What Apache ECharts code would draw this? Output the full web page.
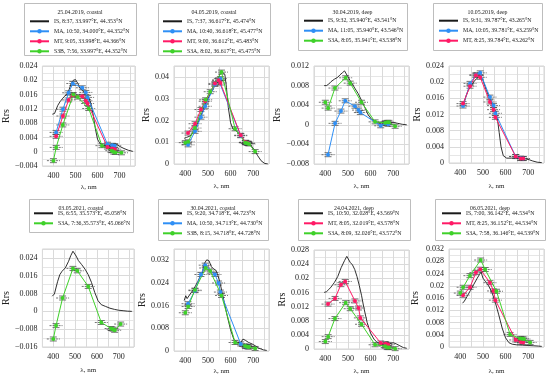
<!DOCTYPE html>
<html><head><meta charset="utf-8">
<script src="https://cdn.jsdelivr.net/npm/echarts@6/dist/echarts.min.js"></script>
<style>html,body{margin:0;padding:0;background:#fff}#c{width:550px;height:379px}</style>
</head><body><div id="c"></div>
<script>
// ---------- DATA ----------
const S3_BANDS = [400, 412.5, 442.5, 490, 510, 560, 620, 665, 673.75, 681.25, 708.75];
const MODIS_BANDS = [412, 443, 469, 488, 531, 547, 555, 645, 667, 678];
const TITLES = ["25.04.2019, coastal", "04.05.2019, coastal", "30.04.2019, deep", "10.05.2019, deep",
                "03.05.2021, coastal", "30.04.2021, coastal", "24.04.2021, deep", "06.05.2021, deep"];
const X_TICKS = [400, 500, 600, 700];

// in situ (IS) spectra: [wavelength nm, Rrs]
const IS_1 = [[395,0.0105],[405,0.0107],[412,0.0118],[420,0.013],[430,0.014],[440,0.0148],[450,0.0155],[460,0.016],[470,0.0172],[480,0.019],[490,0.02],[500,0.0202],[510,0.0192],[520,0.0178],[530,0.0172],[545,0.0163],[560,0.0152],[570,0.0135],[580,0.0105],[590,0.0065],[600,0.0035],[610,0.0024],[625,0.0018],[640,0.0016],[660,0.0019],[680,0.0022],[690,0.002],[700,0.0015],[720,0.0009],[740,0.0004],[760,0.0001]];
const IS_2 = [[395,0.0118],[405,0.0122],[420,0.0128],[430,0.0138],[440,0.0155],[450,0.0178],[460,0.02],[470,0.0225],[480,0.025],[490,0.0278],[500,0.03],[510,0.0322],[520,0.0338],[530,0.036],[540,0.038],[550,0.0405],[560,0.0428],[568,0.0432],[575,0.041],[582,0.035],[590,0.026],[600,0.019],[610,0.0162],[625,0.0152],[640,0.0138],[655,0.0115],[670,0.0098],[690,0.0085],[705,0.0065],[720,0.0038],[735,0.0015],[750,0.0003],[765,0]];
const IS_3 = [[395,0.008],[405,0.008],[415,0.0083],[425,0.0088],[440,0.0093],[455,0.0097],[465,0.0102],[475,0.0106],[485,0.011],[492,0.0107],[500,0.0098],[510,0.009],[520,0.0083],[530,0.0075],[545,0.0064],[560,0.005],[575,0.0035],[590,0.002],[605,0.0011],[620,0.0006],[640,0.0005],[660,0.0006],[680,0.0006],[700,0.0005],[720,0.0003],[740,0.0001],[760,0]];
const IS_4 = [[415,0.0145],[425,0.0165],[435,0.018],[450,0.0193],[465,0.0205],[480,0.0212],[490,0.021],[500,0.0205],[515,0.018],[530,0.016],[545,0.0143],[558,0.0125],[565,0.0105],[572,0.0075],[580,0.004],[590,0.0018],[605,0.0012],[625,0.0012],[645,0.0013],[670,0.0011],[690,0.001],[705,0.0008],[720,0.0005],[740,0.0002],[760,0.0001]];
const IS_5 = [[395,0.0068],[400,0.0065],[405,0.0078],[412,0.0105],[420,0.0135],[430,0.0165],[440,0.018],[455,0.0195],[470,0.0225],[480,0.025],[490,0.027],[497,0.0266],[505,0.0248],[515,0.0228],[530,0.021],[545,0.019],[560,0.0165],[575,0.013],[590,0.0085],[605,0.0048],[620,0.003],[640,0.0022],[660,0.0014],[680,0.0009],[700,0.0005],[720,0.0003],[740,0.0001],[760,0]];
const IS_6 = [[395,0.0178],[402,0.0195],[408,0.0185],[415,0.0182],[425,0.0205],[435,0.0215],[445,0.023],[455,0.0245],[465,0.0262],[475,0.0275],[485,0.031],[495,0.0322],[505,0.0318],[515,0.0298],[525,0.029],[535,0.0285],[545,0.0265],[555,0.0235],[570,0.018],[585,0.0125],[600,0.0075],[615,0.004],[630,0.003],[645,0.003],[655,0.0042],[665,0.0038],[680,0.003],[695,0.0025],[710,0.0018],[725,0.001],[745,0.0004],[760,0.0002]];
const IS_7 = [[395,0.016],[405,0.0162],[415,0.0168],[425,0.0175],[440,0.0188],[455,0.0205],[470,0.023],[485,0.025],[495,0.0262],[500,0.0258],[510,0.0245],[520,0.0238],[530,0.0225],[540,0.0205],[550,0.018],[560,0.0152],[570,0.0118],[585,0.0075],[600,0.0045],[615,0.0028],[630,0.0018],[650,0.0015],[665,0.0019],[675,0.002],[685,0.0015],[700,0.0018],[715,0.0014],[730,0.0009],[745,0.0004],[760,0.0002]];
const IS_8 = [[410,0.0143],[418,0.015],[430,0.0165],[445,0.0185],[460,0.0205],[475,0.0225],[485,0.0237],[492,0.0245],[500,0.0225],[510,0.0215],[525,0.02],[540,0.0178],[555,0.0145],[570,0.0105],[585,0.0062],[600,0.003],[615,0.0014],[630,0.0009],[650,0.0007],[675,0.0006],[700,0.0005],[725,0.0004],[745,0.0003],[760,0.0002]];

// satellite Rrs at band centres
const MA_1  = [0.0054, 0.0119, 0.0165, 0.0191, 0.0179, 0.0166, 0.0152, 0.0021, 0.0018, 0.0017];
const MT_1  = [0.0043, 0.0100, 0.0145, 0.0158, 0.0155, 0.0143, 0.0135, 0.0013, 0.0009, 0.0007];
const S3_1  = [-0.0025, 0.0012, 0.0075, 0.0160, 0.0153, 0.0121, 0.0017, 0.0003, -0.0001, -0.0002, -0.0003];
const MA_2  = [0.0088, 0.0150, 0.0215, 0.0265, 0.0365, 0.0385, 0.0392, 0.0130, 0.0098, 0.0095];
const MT_2  = [0.0142, 0.0185, 0.0250, 0.0288, 0.0370, 0.0385, 0.0372, 0.0132, 0.0100, 0.0095];
const S3_2  = [0.0098, 0.0102, 0.0165, 0.0295, 0.0332, 0.0422, 0.0162, 0.0098, 0.0095, 0.0092, 0.0057];
const MA_3  = [-0.0061, 0.0003, 0.0028, 0.0049, 0.0038, 0.0030, 0.0025, -0.0002, 0.0003, 0.0001];
const S3_3  = [0.0046, 0.0034, 0.0075, 0.0096, 0.0085, 0.0046, 0.0006, 0.0004, 0.0005, 0.0005, -0.0003];
const MA_4  = [0.0141, 0.0197, 0.0218, 0.0223, 0.0163, 0.0142, 0.0123, 0.0016, 0.0012, 0.0011];
const MT_4  = [0.0147, 0.0190, 0.0217, 0.0212, 0.0151, 0.0132, 0.0113, 0.0016, 0.0011, 0.0011];
const S3_5  = [-0.0124, -0.0064, 0.0060, 0.0193, 0.0182, 0.0112, -0.0050, -0.0077, -0.0080, -0.0085, -0.0057];
const MA_6  = [0.0167, 0.0213, 0.0270, 0.0303, 0.0270, 0.0240, 0.0208, 0.0025, 0.0016, 0.0015];
const S3_6  = [0.0135, 0.0157, 0.0215, 0.0293, 0.0282, 0.0196, 0.0030, 0.0018, 0.0015, 0.0014, 0.0009];
const MT_7  = [0.0127, 0.0143, 0.0182, 0.0191, 0.0136, 0.0116, 0.0088, 0.0017, 0.0015, 0.0013];
const S3_7  = [0.0021, 0.0035, 0.0086, 0.0131, 0.0114, 0.0070, 0.0012, 0.0008, 0.0004, 0.0004, 0.0001];
const MT_8  = [0.0169, 0.0195, 0.0243, 0.0254, 0.0210, 0.0183, 0.0153, 0.0023, 0.0016, 0.0015];
const S3_8  = [0.0176, 0.0195, 0.0233, 0.0284, 0.0253, 0.0182, 0.0041, 0.0028, 0.0027, 0.0026, 0.0015];

// legend labels
const LABELS_1 = ["IS, 8:37, 33.997°E, 44.353°N", "MA, 10:50, 34.000°E, 44.352°N", "MT, 9:05, 33.998°E, 44.366°N", "S3B, 7:56, 33.997°E, 44.352°N"];
const LABELS_2 = ["IS, 7:37, 36.617°E, 45.474°N", "MA, 10:40, 36.618°E, 45.477°N", "MT, 9:00, 36.612°E, 45.483°N", "S3A, 8:02, 36.617°E, 45.475°N"];
const LABELS_3 = ["IS, 9:32, 35.940°E, 43.541°N", "MA, 11:05, 35.940°E, 43.546°N", "S3A, 8:05, 35.941°E, 43.538°N"];
const LABELS_4 = ["IS, 9:31, 39.787°E, 43.265°N", "MA, 10:05, 39.781°E, 43.259°N", "MT, 8:25, 39.784°E, 43.262°N"];
const LABELS_5 = ["IS, 6:55, 35.573°E, 45.058°N", "S3A, 7:36,35.573°E, 45.066°N"];
const LABELS_6 = ["IS, 9:20, 34.718°E, 44.723°N", "MA, 10:50, 34.713°E, 44.730°N", "S3B, 8:15, 34.718°E, 44.728°N"];
const LABELS_7 = ["IS, 10:50, 32.028°E, 43.569°N", "MT, 8:05, 32.019°E, 43.578°N", "S3A, 8:09, 32.026°E, 43.572°N"];
const LABELS_8 = ["IS, 7:00, 36.142°E, 44.534°N", "MT, 8:25, 36.152°E, 44.534°N", "S3A, 7:58, 36.146°E, 44.539°N"];

// y axis ranges [min, max, interval]
const Y_RANGES = [[-0.004,0.024,0.004],[0,0.045,0.01],[-0.008,0.012,0.004],[0,0.024,0.004],
                  [-0.016,0.028,0.008],[0,0.036,0.008],[0,0.028,0.004],[0,0.032,0.004]];

// ---------- BUILD ----------
const COL = {MA:'#2f8ff5', MT:'#ff1a66', S3:'#3fd12a', IS:'#1a1a1a'};
const FONT = '"Liberation Serif","Times New Roman",serif';

const PANELS = [
  {is:IS_1, labels:LABELS_1, sats:[['MA',MA_1],['MT',MT_1],['S3',S3_1]]},
  {is:IS_2, labels:LABELS_2, sats:[['MA',MA_2],['MT',MT_2],['S3',S3_2]]},
  {is:IS_3, labels:LABELS_3, sats:[['MA',MA_3],['S3',S3_3]]},
  {is:IS_4, labels:LABELS_4, sats:[['MA',MA_4],['MT',MT_4]]},
  {is:IS_5, labels:LABELS_5, sats:[['S3',S3_5]]},
  {is:IS_6, labels:LABELS_6, sats:[['MA',MA_6],['S3',S3_6]]},
  {is:IS_7, labels:LABELS_7, sats:[['MT',MT_7],['S3',S3_7]]},
  {is:IS_8, labels:LABELS_8, sats:[['MT',MT_8],['S3',S3_8]]}
];

// layout (pixels): box [x,y,w,h], grid [left,top,width,height], legend [left,top], yNameGap, xNameGap
const LAYOUT = [
  {box:[24,3,112,52],  grid:[40,66,95,100],  leg:[29,16.3],  yg:26, xg:18},
  {box:[158,3,112,52], grid:[174,66,95,98],  leg:[162,16.3], yg:23, xg:19},
  {box:[298,3,109,47], grid:[314,66,95,98],  leg:[303,15.7], yg:26, xg:19},
  {box:[433,3,109,47], grid:[449,66,95,97],  leg:[438,15.7], yg:23, xg:20},
  {box:[29,199,104,33],grid:[39,249,95,98],  leg:[33,208.3], yg:26, xg:20},
  {box:[158,199,110,41],grid:[174,249,95,102],leg:[162,208.3],yg:26, xg:17},
  {box:[298,199,112,41],grid:[314,250,95,99], leg:[303,208.3],yg:27, xg:19},
  {box:[435,199,110,41],grid:[449,249,95,98], leg:[441,208.3],yg:29, xg:21}
];

function fmtY(int){
  return function(v){
    const r = v/int;
    if (Math.abs(r - Math.round(r)) > 1e-6) return '';
    const s = String(parseFloat(v.toFixed(4)));
    return s.replace('-', '\u2212');
  };
}

const grids=[], xAxes=[], yAxes=[], series=[], legends=[], graphics=[];
PANELS.forEach((p,i)=>{
  const L = LAYOUT[i], Y = Y_RANGES[i];
  grids.push({left:L.grid[0], top:L.grid[1], width:L.grid[2], height:L.grid[3],
              show:true, borderColor:'#d4d4d4', borderWidth:1, backgroundColor:'#fff'});
  xAxes.push({type:'value', gridIndex:i, min:350, max:770, interval:50,
    name:'λ, nm', nameLocation:'middle', nameGap:L.xg,
    nameTextStyle:{fontFamily:FONT, fontSize:7, color:'#222'},
    axisLine:{show:false}, axisTick:{show:false},
    axisLabel:{fontFamily:FONT, fontSize:8, color:'#222', margin:6,
      formatter:v=> X_TICKS.includes(v) ? String(v) : ''},
    splitLine:{show:true, lineStyle:{color:'#dadada', width:1}}});
  yAxes.push({type:'value', gridIndex:i, min:Y[0], max:Y[1], interval:Y[2],
    name:'Rrs', nameLocation:'middle', nameGap:L.yg,
    nameTextStyle:{fontFamily:FONT, fontSize:10, color:'#222'},
    axisLine:{show:false}, axisTick:{show:false},
    axisLabel:{fontFamily:FONT, fontSize:8, color:'#222', margin:5, formatter:fmtY(Y[2])},
    splitLine:{show:true, lineStyle:{color:'#dadada', width:1}},
    minorTick:{show:false, splitNumber:2},
    minorSplitLine:{show:true, lineStyle:{color:'#e6e6e6', width:1}}});

  series.push({type:'line', name:p.labels[0], xAxisIndex:i, yAxisIndex:i, data:p.is,
    symbol:'none', showSymbol:false, color:COL.IS, lineStyle:{color:COL.IS, width:0.9}, z:2, silent:true});

  p.sats.forEach((s,k)=>{
    const bands = s[0]==='S3' ? S3_BANDS : MODIS_BANDS;
    const pts = bands.map((b,j)=>[b, s[1][j]]);
    series.push({type:'custom', xAxisIndex:i, yAxisIndex:i, data:pts, z:3, silent:true,
      encode:{x:0,y:1},
      renderItem:(params, api)=>{
        const c = api.coord([api.value(0), api.value(1)]);
        const st = {stroke:'#3a3a3a', lineWidth:0.7};
        return {type:'group', children:[
          {type:'line', shape:{x1:c[0]-6.5,y1:c[1],x2:c[0]+6.5,y2:c[1]}, style:Object.assign({lineDash:[2,1]},st)},
          {type:'line', shape:{x1:c[0]-3.5,y1:c[1]-2,x2:c[0]+3.5,y2:c[1]-2}, style:st},
          {type:'line', shape:{x1:c[0]-3.5,y1:c[1]+2,x2:c[0]+3.5,y2:c[1]+2}, style:st}
        ]};
      }});
    series.push({type:'line', name:p.labels[k+1], xAxisIndex:i, yAxisIndex:i, data:pts,
      symbol:'circle', symbolSize:4, showSymbol:true, color:COL[s[0]],
      itemStyle:{color:COL[s[0]]}, lineStyle:{color:COL[s[0]], width:1}, z:4, silent:true});
  });

  const legData = p.labels.map((n,k)=> k===0 ? {name:n, itemStyle:{opacity:0}} : {name:n});
  legends.push({data:legData, left:L.leg[0], top:L.leg[1], orient:'vertical', itemGap:0,
    itemWidth:19, itemHeight:5.5, padding:0, selectedMode:false, z:10,
    textStyle:{fontFamily:FONT, fontSize:5.8, lineHeight:10, color:'#222', padding:[0,0,0,0]}});

  const B = L.box;
  graphics.push({type:'rect', shape:{x:B[0]+0.5, y:B[1]+0.5, width:B[2], height:B[3]},
    style:{fill:'#fff', stroke:'#bdbdbd', lineWidth:1}, z:1});
  graphics.push({type:'text', x:B[0]+B[2]/2, y:B[1]+9, z:2,
    style:{text:TITLES[i], fontFamily:FONT, fontSize:5.8, fill:'#222', align:'center', verticalAlign:'middle'}});
});

const chart = echarts.init(document.getElementById('c'), null, {renderer:'canvas'});
chart.setOption({
  animation:false,
  backgroundColor:'#fff',
  grid:grids, xAxis:xAxes, yAxis:yAxes, series:series, legend:legends,
  graphic:{elements:graphics}
});
</script>
</body></html>
